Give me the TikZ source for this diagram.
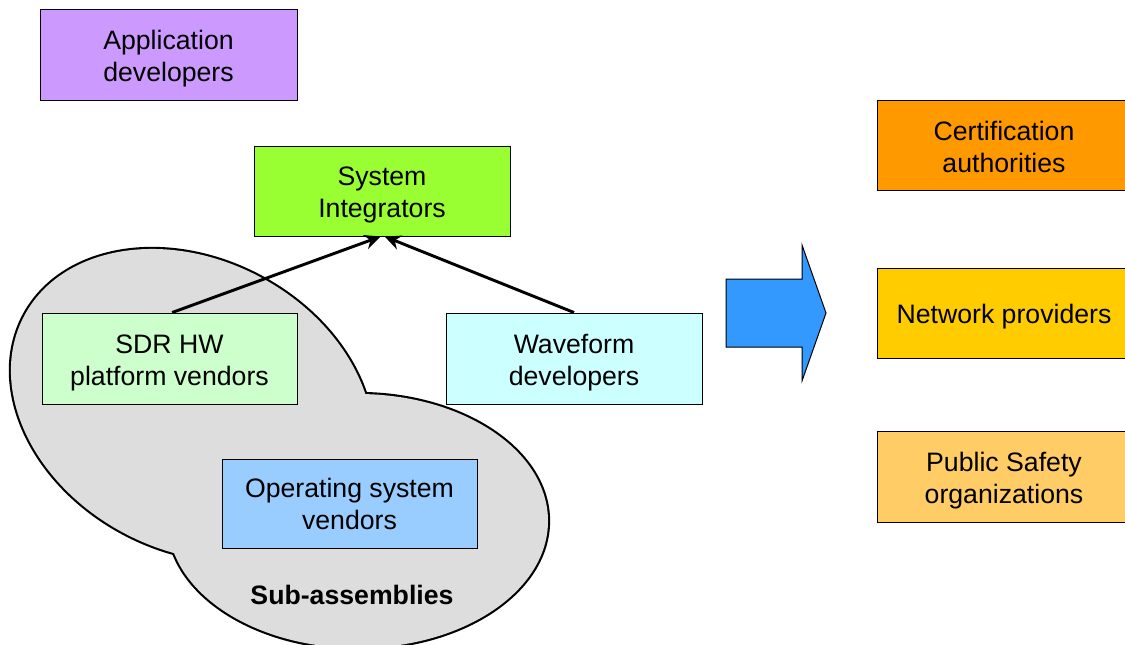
\documentclass[tikz,border=0pt]{standalone}
\usepackage{fontspec}
\setmainfont{Liberation Sans}
\usetikzlibrary{arrows.meta}
\definecolor{appc}{HTML}{CC99FF}
\definecolor{sic}{HTML}{99FF33}
\definecolor{sdrc}{HTML}{CCFFCC}
\definecolor{wfc}{HTML}{CCFFFF}
\definecolor{osc}{HTML}{99CCFF}
\definecolor{certc}{HTML}{FF9900}
\definecolor{netc}{HTML}{FFCC00}
\definecolor{psc}{HTML}{FFCC66}
\definecolor{blobc}{HTML}{DDDDDD}
\definecolor{bigarrow}{HTML}{3399FF}
\begin{document}
\begin{tikzpicture}[x=0.75pt,y=0.75pt,
  box/.style={draw=black,line width=0.75pt,inner sep=0pt},
  boxtext/.style={align=center,inner sep=0pt,font=\fontsize{20}{24}\selectfont},
  conn/.style={line width=2.2pt,-{Stealth[length=12pt,width=11pt]}}]
\useasboundingbox (0,0) rectangle (1125,-644);
\fill[white] (0,0) rectangle (1125,-644);
% sub-assemblies blob (union of two ellipses)
\draw[line width=3.2pt,rotate around={-28:(192,-405)}] (192,-405) ellipse [x radius=190, y radius=145];
\draw[line width=3.2pt] (358,-521) ellipse [x radius=190, y radius=127];
\fill[blobc,rotate around={-28:(192,-405)}] (192,-405) ellipse [x radius=190, y radius=145];
\fill[blobc] (358,-521) ellipse [x radius=190, y radius=127];
\node[font=\bfseries\fontsize{20}{24}\selectfont] (sub) at (352,-595) {Sub-assemblies};
% boxes
\node[box,fill=appc,minimum width=192.75pt,minimum height=68.25pt] (app) at (168.5,-54.5) {};
\node[boxtext] (appt) at ([yshift=-3pt]app.center) {Application\\developers};
\node[box,fill=sic,minimum width=192pt,minimum height=67.5pt] (si) at (382,-191) {};
\node[boxtext] (sit) at ([yshift=-2.7pt]si.center) {System\\Integrators};
\node[box,fill=sdrc,minimum width=191.25pt,minimum height=68.25pt] (sdr) at (169.5,-358.5) {};
\node[boxtext] (sdrt) at ([yshift=-3pt]sdr.center) {SDR HW\\platform vendors};
\node[box,fill=wfc,minimum width=192pt,minimum height=68.25pt] (wf) at (574,-358.5) {};
\node[boxtext] (wft) at ([yshift=-3pt]wf.center) {Waveform\\developers};
\node[box,fill=osc,minimum width=191.25pt,minimum height=66.75pt] (os) at (349.5,-503.5) {};
\node[boxtext] (ost) at (os.center) {Operating system\\vendors};
\node[box,fill=certc,minimum width=190.5pt,minimum height=67.5pt] (cert) at (1004,-145) {};
\node[boxtext] (certt) at ([yshift=-1.5pt]cert.center) {Certification\\authorities};
\node[box,fill=netc,minimum width=190.5pt,minimum height=67.5pt] (net) at (1004,-313) {};
\node[boxtext] (nett) at ([yshift=-3pt]net.center) {Network providers};
\node[box,fill=psc,minimum width=190.5pt,minimum height=68.25pt] (ps) at (1004,-476.5) {};
\node[boxtext] (pst) at ([yshift=-3pt]ps.center) {Public Safety\\organizations};
% connectors
\draw[conn] ([xshift=2pt]sdr.north) -- ([xshift=-1pt]si.south);
\draw[conn] (wf.north) -- ([xshift=2pt]si.south);
% big arrow
\draw[fill=bigarrow,line width=0.75pt] (726,-279) -- (802,-279) -- (802,-245) -- (826,-313) -- (802,-381) -- (802,-347) -- (726,-347) -- cycle;
\end{tikzpicture}
\end{document}
